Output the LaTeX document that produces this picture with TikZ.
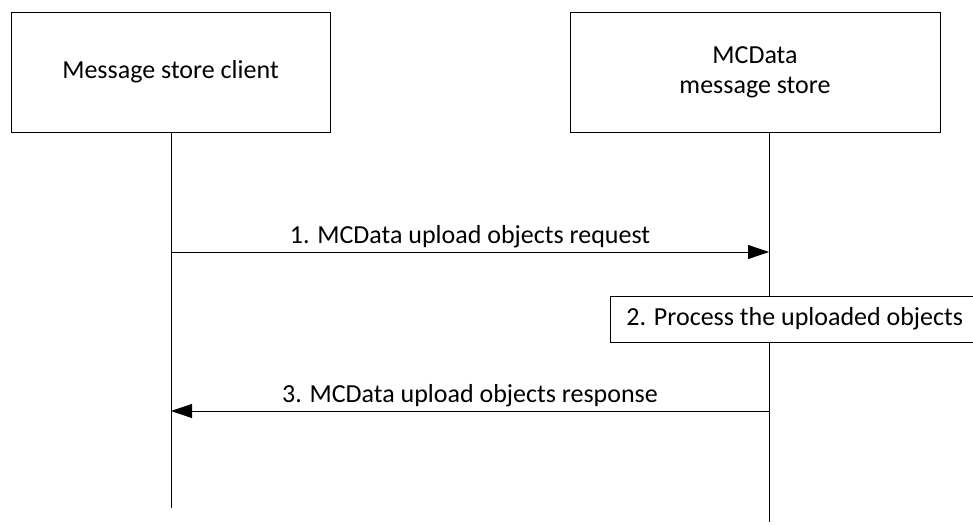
\documentclass[tikz,border=0pt]{standalone}
\usepackage{fontspec}
\setmainfont{Carlito}
\usetikzlibrary{arrows.meta}
\begin{document}
\begin{tikzpicture}[x=1pt,y=-1pt,
  every node/.style={font=\fontsize{26}{30}\selectfont},
  actor/.style={draw, line width=0.8pt, minimum height=120pt, align=center, inner sep=0pt},
  lifeline/.style={line width=0.8pt},
  msg/.style={line width=0.8pt, -{Triangle[length=21pt,width=14pt]}},
  procbox/.style={draw, fill=white, line width=0.8pt, minimum height=46pt, inner ysep=0pt, inner xsep=16pt, anchor=west}]
\useasboundingbox (0,0) rectangle (973,524);
\node[actor, minimum width=319pt] (client) at (170.5,72) {Message store client};
\node[actor, minimum width=370pt] (store) at (755,72) {MCData\\message store};
\coordinate (clientEnd) at (171,508);
\coordinate (storeEnd) at (769,522);
\coordinate (c1) at (171,252);
\coordinate (s1) at (769,252);
\coordinate (c3) at (171,411);
\coordinate (s3) at (769,411);
\draw[lifeline] (client.south -| clientEnd) -- (clientEnd);
\draw[lifeline] (store.south -| storeEnd) -- (storeEnd);
\draw[msg] (c1) -- node[above=0pt] (m1) {1. MCData upload objects request} (s1);
\draw[msg] (s3) -- node[above=0pt] (m3) {3. MCData upload objects response} (c3);
\node[procbox] (proc) at (610,319) {2. Process the uploaded objects\hspace*{10pt}};
\end{tikzpicture}
\end{document}
